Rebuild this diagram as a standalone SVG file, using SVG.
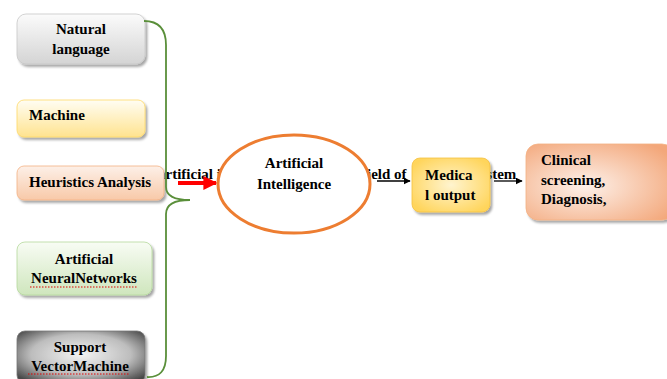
<svg xmlns="http://www.w3.org/2000/svg" width="667" height="379" viewBox="0 0 667 379">
<style>
text{font-family:"Liberation Serif","Times New Roman",serif;font-weight:bold;font-size:15px;fill:#000;font-variant-ligatures:none}
.box{filter:url(#sh)}
.sq{stroke:#e00000;stroke-width:1;stroke-dasharray:1.5 1.5;fill:none}
</style>
<defs>
<filter id="sh" x="-10%" y="-10%" width="125%" height="135%">
<feDropShadow dx="2" dy="2.5" stdDeviation="1.2" flood-color="#000" flood-opacity="0.35"/>
</filter>
<linearGradient id="gGray" x1="0" y1="0" x2="0" y2="1"><stop offset="0" stop-color="#fbfbfb"/><stop offset="1" stop-color="#d4d4d4"/></linearGradient>
<linearGradient id="gYel" x1="0" y1="0" x2="0" y2="1"><stop offset="0" stop-color="#fffdf3"/><stop offset="1" stop-color="#ffe38f"/></linearGradient>
<linearGradient id="gPeach" x1="0" y1="0" x2="0" y2="1"><stop offset="0" stop-color="#fdf0e8"/><stop offset="1" stop-color="#f8c9a8"/></linearGradient>
<linearGradient id="gGreen" x1="0" y1="0" x2="0" y2="1"><stop offset="0" stop-color="#f8fcf4"/><stop offset="1" stop-color="#cfe6bd"/></linearGradient>
<radialGradient id="gDark" cx="0.5" cy="0.45" r="0.65"><stop offset="0" stop-color="#f4f4f4"/><stop offset="0.6" stop-color="#bdbdbd"/><stop offset="1" stop-color="#4a4a4a"/></radialGradient>
<radialGradient id="gMed" cx="0.5" cy="0.5" r="0.6"><stop offset="0" stop-color="#fff4cf"/><stop offset="1" stop-color="#ffd55c"/></radialGradient>
<radialGradient id="gClin" cx="0.4" cy="0.55" r="0.7"><stop offset="0" stop-color="#fdf1ea"/><stop offset="1" stop-color="#f3a77a"/></radialGradient>
<marker id="ab" viewBox="0 0 10 10" refX="9" refY="5" markerWidth="7" markerHeight="7" markerUnits="userSpaceOnUse" orient="auto"><path d="M0,0 L10,5 L0,10 z" fill="#000"/></marker>
<marker id="ar" viewBox="0 0 10 10" refX="9" refY="5" markerWidth="3.5" markerHeight="3.5" orient="auto"><path d="M0,0 L10,5 L0,10 z" fill="#ff0000"/></marker>
</defs>
<rect width="667" height="379" fill="#fff"/>

<g id="edge-labels">
<text x="158" y="179">artificial i</text>
<text x="362" y="179">field of</text>
<text x="473" y="179">system</text>
</g>

<g id="n-natural"><rect class="box" x="17" y="14" width="128" height="50" rx="9" fill="url(#gGray)" stroke="#c8c8c8" stroke-width="0.8"/>
<text x="81" y="34" text-anchor="middle">Natural</text><text x="81" y="54" text-anchor="middle">language</text></g>
<g id="n-machine"><rect class="box" x="17" y="100" width="128" height="37" rx="7" fill="url(#gYel)" stroke="#ffd966" stroke-width="0.8"/>
<text x="29" y="120">Machine</text></g>
<g id="n-heur"><rect class="box" x="17" y="166" width="147" height="34" rx="7" fill="url(#gPeach)" stroke="#f4b183" stroke-width="0.8"/>
<text x="29" y="187">Heuristics Analysis</text></g>
<g id="n-ann"><rect class="box" x="17" y="242" width="135" height="53" rx="8" fill="url(#gGreen)" stroke="#b5d99c" stroke-width="0.8"/>
<text x="84" y="264" text-anchor="middle">Artificial</text><text x="84" y="283" text-anchor="middle">NeuralNetworks</text>
<path class="sq" d="M30,287 H137"/></g>
<g id="n-svm"><rect class="box" x="17" y="331" width="128" height="52" rx="8" fill="url(#gDark)" stroke="#777" stroke-width="0.8"/>
<text x="80" y="352" text-anchor="middle">Support</text><text x="80" y="371" text-anchor="middle">VectorMachine</text>
<path class="sq" d="M28,374 H130"/></g>

<g id="connectors" fill="none">
<path d="M144,21 Q166,21 166,45 V187 Q166,200 190,200 Q166,200 166,214 V356 Q166,378 147,377" stroke="#5a8f3a" stroke-width="1.8"/>
<line x1="178" y1="183" x2="216" y2="183" stroke="#ff0000" stroke-width="4" marker-end="url(#ar)"/>
<line x1="377" y1="181" x2="410" y2="181" stroke="#000" stroke-width="1.3" marker-end="url(#ab)"/>
<line x1="494" y1="181" x2="522" y2="181" stroke="#000" stroke-width="1.3" marker-end="url(#ab)"/>
</g>

<g id="n-ai"><ellipse cx="294" cy="184" rx="76" ry="49" fill="#fff" stroke="#ed7d31" stroke-width="3"/>
<text x="294" y="168" text-anchor="middle">Artificial</text><text x="294" y="189" text-anchor="middle">Intelligence</text></g>

<g id="n-medical"><rect class="box" x="412" y="158" width="78" height="54" rx="8" fill="url(#gMed)" stroke="#f5c242" stroke-width="0.8"/>
<text x="425" y="180">Medica</text><text x="425" y="200">l output</text></g>
<g id="n-clinical"><rect class="box" x="526" y="144" width="148" height="76" rx="12" fill="url(#gClin)" stroke="#f4b183" stroke-width="0.8"/>
<text x="541" y="165">Clinical</text><text x="541" y="185">screening,</text><text x="541" y="204">Diagnosis,</text></g>
</svg>
